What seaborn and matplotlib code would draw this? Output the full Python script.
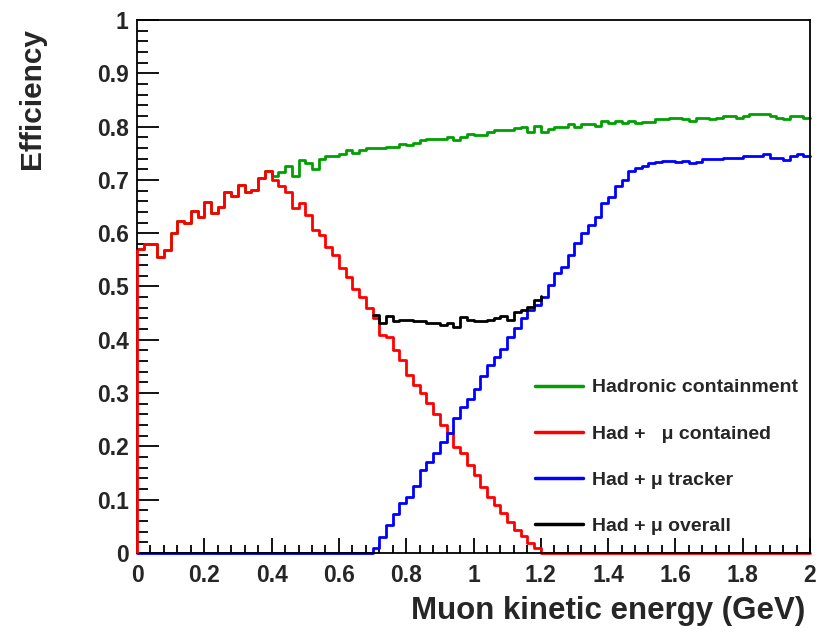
import numpy as np
import pandas as pd
import matplotlib
matplotlib.use("Agg")
import matplotlib.pyplot as plt
from matplotlib.ticker import MultipleLocator, FuncFormatter
import seaborn as sns

# ---- data: 100 bins of 0.02 GeV between 0 and 2 GeV ----
bin_edges = np.linspace(0.0, 2.0, 101)

had_containment = [
    0.570, 0.580, 0.580, 0.556, 0.568, 0.601, 0.623, 0.620, 0.642, 0.630,
    0.659, 0.637, 0.650, 0.677, 0.670, 0.690, 0.678, 0.681, 0.703, 0.717,
    0.707, 0.715, 0.726, 0.707, 0.737, 0.731, 0.720, 0.740, 0.745, 0.745,
    0.748, 0.756, 0.750, 0.756, 0.759, 0.759, 0.759, 0.762, 0.762, 0.767,
    0.766, 0.770, 0.775, 0.776, 0.776, 0.776, 0.781, 0.775, 0.781, 0.787,
    0.784, 0.784, 0.789, 0.794, 0.794, 0.794, 0.797, 0.799, 0.790, 0.802,
    0.790, 0.795, 0.799, 0.799, 0.805, 0.799, 0.805, 0.805, 0.801, 0.811,
    0.807, 0.811, 0.807, 0.811, 0.807, 0.809, 0.809, 0.8135, 0.8135, 0.817,
    0.8156, 0.8137, 0.811, 0.817, 0.817, 0.814, 0.817, 0.8205, 0.8205, 0.817,
    0.820, 0.8236, 0.8236, 0.8236, 0.820, 0.817, 0.814, 0.8205, 0.8205, 0.817,
]

had_mu_contained = [
    0.570, 0.580, 0.580, 0.556, 0.568, 0.601, 0.623, 0.620, 0.642, 0.630,
    0.659, 0.637, 0.650, 0.677, 0.670, 0.690, 0.678, 0.681, 0.703, 0.717,
    0.699, 0.689, 0.678, 0.647, 0.656, 0.634, 0.606, 0.597, 0.575, 0.559,
    0.534, 0.518, 0.495, 0.481, 0.459, 0.440, 0.409, 0.406, 0.381, 0.363,
    0.334, 0.315, 0.300, 0.281, 0.261, 0.240, 0.2245, 0.1995, 0.187, 0.165,
    0.146, 0.124, 0.106, 0.090, 0.0745, 0.059, 0.043, 0.031, 0.018, 0.010,
    0.0, 0.0, 0.0, 0.0, 0.0, 0.0, 0.0, 0.0, 0.0, 0.0,
    0.0, 0.0, 0.0, 0.0, 0.0, 0.0, 0.0, 0.0, 0.0, 0.0,
    0.0, 0.0, 0.0, 0.0, 0.0, 0.0, 0.0, 0.0, 0.0, 0.0,
    0.0, 0.0, 0.0, 0.0, 0.0, 0.0, 0.0, 0.0, 0.0, 0.0,
]

had_mu_tracker = [
    0.0, 0.0, 0.0, 0.0, 0.0, 0.0, 0.0, 0.0, 0.0, 0.0,
    0.0, 0.0, 0.0, 0.0, 0.0, 0.0, 0.0, 0.0, 0.0, 0.0,
    0.0, 0.0, 0.0, 0.0, 0.0, 0.0, 0.0, 0.0, 0.0, 0.0,
    0.0, 0.0, 0.0, 0.0, 0.0, 0.010, 0.030, 0.053, 0.073, 0.093,
    0.105, 0.125, 0.156, 0.171, 0.187, 0.209, 0.226, 0.253, 0.273, 0.289,
    0.308, 0.333, 0.352, 0.367, 0.383, 0.405, 0.423, 0.440, 0.456, 0.466,
    0.480, 0.502, 0.525, 0.537, 0.559, 0.581, 0.600, 0.615, 0.631, 0.656,
    0.668, 0.689, 0.700, 0.717, 0.723, 0.727, 0.732, 0.733, 0.735, 0.735,
    0.734, 0.735, 0.732, 0.734, 0.739, 0.739, 0.739, 0.742, 0.742, 0.742,
    0.745, 0.745, 0.745, 0.749, 0.7405, 0.7405, 0.737, 0.745, 0.749, 0.744,
]

nan = np.nan
had_mu_overall = [nan] * 35 + [
    0.446, 0.432, 0.445, 0.435, 0.437,
    0.437, 0.436, 0.435, 0.431, 0.431, 0.428, 0.431, 0.424, 0.442, 0.437,
    0.436, 0.436, 0.438, 0.440, 0.445, 0.437, 0.453, 0.456, 0.462, 0.474,
    0.482,
] + [nan] * 39

series_labels = ["Hadronic containment", "Had +   \u03bc contained",
                 "Had + \u03bc tracker", "Had + \u03bc overall"]
series_colors = ["#00a000", "#ff0000", "#0000ff", "#000000"]
series_values = [had_containment, had_mu_contained, had_mu_tracker, had_mu_overall]

# ---- figure ----
sns.set_theme(style="white")
plt.rcParams["font.family"] = ["Liberation Sans", "DejaVu Sans"]
plt.rcParams["font.weight"] = "bold"

fig = plt.figure(figsize=(8.21, 6.33), dpi=100)
ax = fig.add_axes([137 / 821, 1 - 553 / 633, 673 / 821, 533 / 633])

for vals, lab, col in zip(series_values, series_labels, series_colors):
    v = np.asarray(vals, dtype=float)
    df = pd.DataFrame({"E": bin_edges, "eff": np.append(v, v[-1])})
    sns.lineplot(data=df, x="E", y="eff", ax=ax, color=col, lw=2.0,
                 drawstyle="steps-post", label=lab, estimator=None,
                 clip_on=False)

# histogram outline rising from the baseline at the lower edge
first = np.asarray(had_mu_contained, dtype=float)[0]
ax.vlines(bin_edges[0], 0, first, colors="#ff0000", lw=2.0, clip_on=False,
          zorder=3)

ax.set_xlim(0, 2)
ax.set_ylim(0, 1)

fmt = FuncFormatter(lambda v, p: f"{v:g}")
ax.xaxis.set_major_locator(MultipleLocator(0.2))
ax.xaxis.set_minor_locator(MultipleLocator(0.04))
ax.yaxis.set_major_locator(MultipleLocator(0.1))
ax.yaxis.set_minor_locator(MultipleLocator(0.02))
ax.xaxis.set_major_formatter(fmt)
ax.yaxis.set_major_formatter(fmt)

ax.tick_params(axis="x", which="major", direction="in", length=11, width=1.3,
               pad=8, labelsize=16.5, color="black", bottom=True, top=False)
ax.tick_params(axis="x", which="minor", direction="in", length=5.5, width=1.3,
               bottom=True, top=False, color="black")
ax.tick_params(axis="y", which="major", direction="in", length=16, width=1.3,
               pad=6, labelsize=16.5, color="black", left=True, right=False)
ax.tick_params(axis="y", which="minor", direction="in", length=8, width=1.3,
               left=True, right=False, color="black")
for lbl in ax.get_xticklabels() + ax.get_yticklabels():
    lbl.set_fontweight("bold")

for s in ax.spines.values():
    s.set_color("black")
    s.set_linewidth(1.3)

ax.set_xlabel("Muon kinetic energy (GeV)", fontsize=22.5, fontweight="bold",
              loc="right", labelpad=9)
ax.xaxis.set_label_coords(1 - 5 / 673, -0.08)
ax.set_ylabel("Efficiency", fontsize=21.5, fontweight="bold", loc="top")
ax.yaxis.set_label_coords(-(137 - 46) / 673, 1 - 8 / 533)

leg = ax.legend(loc="upper left", bbox_to_anchor=(0.591, 0.327), frameon=False,
                fontsize=14, handlelength=2.47, handletextpad=0.5,
                labelspacing=1.47, borderaxespad=0, borderpad=0)
for t in leg.get_texts():
    t.set_fontweight("bold")
for h in leg.get_lines():
    h.set_linewidth(2.5)

fig.savefig("out.png", dpi=100)
